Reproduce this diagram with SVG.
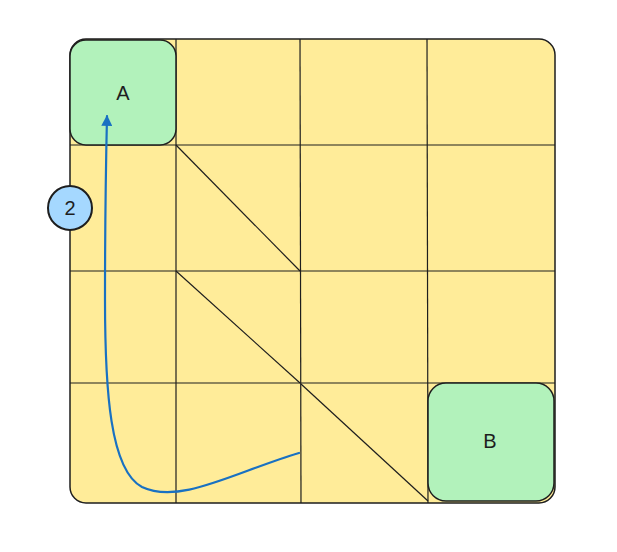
<svg xmlns="http://www.w3.org/2000/svg" width="617" height="552" viewBox="0 0 617 552">
<defs>
<style>
.grid{fill:none;stroke:#1e1e1e;stroke-width:1.2}
.node{fill:#b2f2bb;stroke:#1e1e1e;stroke-width:1.5}
.lbl{font-family:"Liberation Sans",Arial,sans-serif;font-size:20px;fill:#1e1e1e;text-anchor:middle;dominant-baseline:central}
.conn{fill:none;stroke:#1971c2;stroke-width:2.2;stroke-linecap:round}
</style>
<marker id="ah" viewBox="0 0 10 10" refX="9" refY="5" markerWidth="5.5" markerHeight="5" orient="auto" markerUnits="strokeWidth">
<path d="M0,0 L10,5 L0,10 Z" fill="#1971c2"/>
</marker>
</defs>
<rect width="617" height="552" fill="#ffffff"/>
<g id="board">
<rect x="70" y="39" width="485" height="464" rx="16" fill="#ffec99" stroke="#1e1e1e" stroke-width="1.5"/>
<line class="grid" x1="176" y1="39" x2="176" y2="503"/>
<line class="grid" x1="300" y1="39" x2="301" y2="503"/>
<line class="grid" x1="427" y1="39" x2="428" y2="503"/>
<line class="grid" x1="70" y1="145" x2="555" y2="145"/>
<line class="grid" x1="70" y1="271" x2="555" y2="271"/>
<line class="grid" x1="70" y1="383" x2="555" y2="383"/>
<line class="grid" x1="176" y1="145" x2="300" y2="271"/>
<line class="grid" x1="176" y1="271" x2="300" y2="383"/>
<line class="grid" x1="301" y1="384" x2="428" y2="501"/>
</g>
<g id="nodeA">
<rect class="node" x="70" y="40" width="106" height="105" rx="16"/>
<text class="lbl" x="123" y="93">A</text>
</g>
<g id="nodeB">
<rect class="node" x="428" y="383" width="126" height="118" rx="18"/>
<text class="lbl" x="490" y="441">B</text>
</g>
<g id="badge">
<circle cx="70" cy="208" r="22" fill="#a5d8ff" stroke="#1e1e1e" stroke-width="2"/>
<text class="lbl" x="70" y="208">2</text>
</g>
<g id="connectors">
<path class="conn" d="M299,453 C235,472 180,505 142,487 C110,470 105,390 105,300 C105,220 106,160 107,116" marker-end="url(#ah)"/>
</g>
</svg>
